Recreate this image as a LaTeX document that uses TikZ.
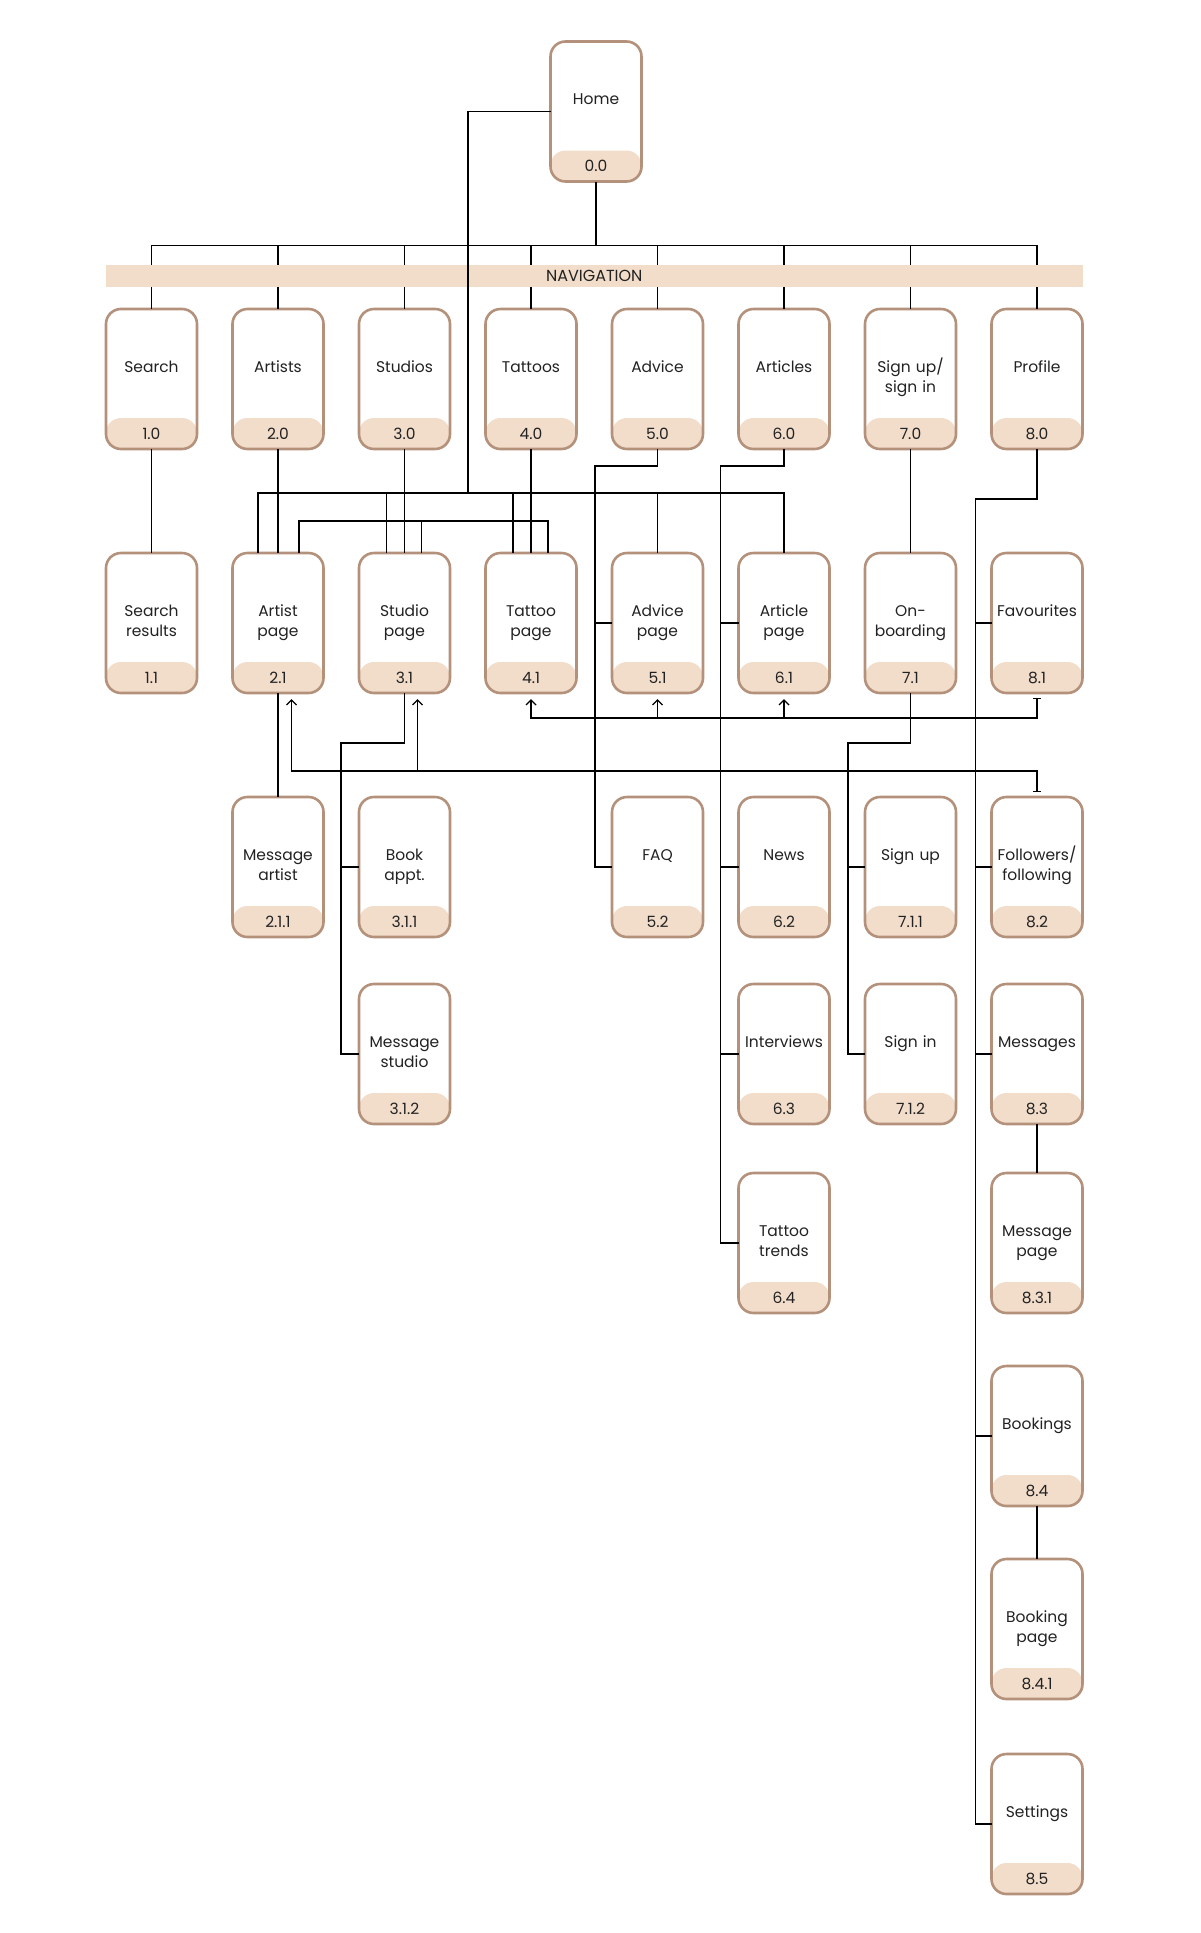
\documentclass[tikz,border=0pt]{standalone}
\usepackage{fontspec}
\setmainfont{Poppins}
\usepackage{tikz}
\usetikzlibrary{arrows.meta, positioning, calc}

\definecolor{boxline}{HTML}{B3917B}
\definecolor{bandfill}{HTML}{F2DDCB}
\definecolor{ink}{HTML}{222222}
\newcommand{\boxfont}{\fontsize{15.5}{20.5}\selectfont}

\begin{document}
\begin{tikzpicture}[
    x=1pt, y=1pt,
    node distance=104pt and 35.5pt,
    screen/.style={
      rectangle, rounded corners=15pt,
      draw=boxline, line width=2.6pt, fill=white,
      minimum width=91pt, minimum height=140pt,
      text width=91pt, align=center, inner sep=0pt, outer sep=0pt,
      text height=63pt, text depth=77pt,
      font=\boxfont, text=ink,
      path picture={\fill[bandfill] (path picture bounding box.south west)
        rectangle ([yshift=31pt]path picture bounding box.south east);},
      label={[anchor=base, yshift=10pt, inner sep=0pt, font=\boxfont, text=ink]south:#1}
    },
    navbar/.style={
      rectangle, fill=bandfill, minimum width=976.5pt, minimum height=22pt,
      inner sep=0pt, font=\fontsize{16}{16}\selectfont, text=ink
    },
    link/.style={draw=black, line width=1.6pt},
    uparr/.style={link, -{Straight Barb[length=5pt, width=10pt, line width=1.4pt]},
      shorten >=6pt},
    bararr/.style={link, {Bar[width=8pt, line width=1.4pt]}-{Straight Barb[length=5pt, width=10pt, line width=1.4pt]},
      shorten <=5pt, shorten >=6pt}
  ]

    \fill[white] (0,0) rectangle (1200,-1933);
    \useasboundingbox (0,0) rectangle (1200,-1933);

    % top level
    \node[screen=0.0] (home) at (596,-111.5) {Home};

    \node[screen=1.0] (search) at (151.5,-379) {Search};
    \node[screen=2.0, right=of search] (artists) {Artists};
    \node[screen=3.0, right=of artists] (studios) {Studios};
    \node[screen=4.0, right=of studios] (tattoos) {Tattoos};
    \node[screen=5.0, right=of tattoos] (advice) {Advice};
    \node[screen=6.0, right=of advice] (articles) {Articles};
    \node[screen=7.0, right=of articles] (signupin) {Sign up/\\sign in};
    \node[screen=8.0, right=of signupin] (profile) {Profile};

    % second level
    \node[screen=1.1, below=of search] (results) {Search\\results};
    \node[screen=2.1, below=of artists] (artpage) {Artist\\page};
    \node[screen=3.1, below=of studios] (studpage) {Studio\\page};
    \node[screen=4.1, below=of tattoos] (tatpage) {Tattoo\\page};
    \node[screen=5.1, below=of advice] (advpage) {Advice\\page};
    \node[screen=6.1, below=of articles] (artcpage) {Article\\page};
    \node[screen=7.1, below=of signupin] (onboard) {On-\\boarding};
    \node[screen=8.1, below=of profile] (fav) {Favourites};

    % third level
    \node[screen=2.1.1, below=of artpage] (msgart) {Message\\artist};
    \node[screen=3.1.1, below=of studpage] (book) {Book\\appt.};
    \node[screen=5.2, below=of advpage] (faq) {FAQ};
    \node[screen=6.2, below=of artcpage] (news) {News};
    \node[screen=7.1.1, below=of onboard] (signup) {Sign up};
    \node[screen=8.2, below=of fav] (follow) {Followers/\\following};

    \node[screen=3.1.2, below=47pt of book] (msgstu) {Message\\studio};
    \node[screen=6.3, below=47pt of news] (interv) {Interviews};
    \node[screen=7.1.2, below=47pt of signup] (signin) {Sign in};
    \node[screen=8.3, below=47pt of follow] (msgs) {Messages};

    \node[screen=6.4, below=49pt of interv] (trends) {Tattoo\\trends};
    \node[screen=8.3.1, below=49pt of msgs] (msgpage) {Message\\page};
    \node[screen=8.4, below=53pt of msgpage] (bookings) {Bookings};
    \node[screen=8.4.1, below=53pt of bookings] (bookpage) {Booking\\page};
    \node[screen=8.5, below=55pt of bookpage] (settings) {Settings};

    % navigation bus
    \coordinate (navbus) at ($(home.south)+(0,-64)$);
    \draw[link] (home.south) -- (navbus);
    \foreach \n in {search,artists,studios,tattoos,advice,articles,signupin,profile}
      \draw[link] (navbus) -| (\n.north);
    \node[navbar] (nav) at (594.25,-276) {NAVIGATION};

    % home straight to the pages
    \coordinate (homebus) at ($(studios.south)!.5!(tattoos.south)+(0,-44)$);
    \draw[link] (home.west) -| (homebus);
    \draw[link] ([xshift=-20pt]artpage.north) |- (homebus) -| (artcpage.north);
    \foreach \n/\dx in {studpage/-18, tatpage/-18, advpage/0}
      \draw[link] ([xshift=\dx pt]\n.north) |- (homebus);

    % artist, studio and tattoo pages
    \coordinate (pagebus) at ($(artpage.north)+(21,32)$);
    \draw[link] ([xshift=21pt]artpage.north) -- (pagebus) -| ([xshift=17pt]tatpage.north);
    \draw[link] ([xshift=17pt]studpage.north) |- (pagebus);

    \foreach \a/\b in {search/results, artists/artpage, studios/studpage,
        tattoos/tatpage, signupin/onboard, artpage/msgart, msgs/msgpage,
        bookings/bookpage}
      \draw[link] (\a.south) -- (\b.north);

    % trunks
    \draw[link] (advice.south) -- ++(0,-17) -| ([xshift=-17pt]faq.west) -- (faq.west);
    \draw[link] (advpage.west) -- ++(-17,0);

    \draw[link] (articles.south) -- ++(0,-17) -| ([xshift=-18pt]trends.west) -- (trends.west);
    \foreach \n in {artcpage, news, interv}
      \draw[link] (\n.west) -- ++(-18,0);

    \draw[link] (studpage.south) -- ++(0,-50) -| ([xshift=-18pt]msgstu.west) -- (msgstu.west);
    \draw[link] (book.west) -- ++(-18,0);

    \draw[link] (onboard.south) -- ++(0,-50) -| ([xshift=-17pt]signin.west) -- (signin.west);
    \draw[link] (signup.west) -- ++(-17,0);

    \draw[link] (profile.south) -- ++(0,-50) -| ([xshift=-16pt]settings.west) -- (settings.west);
    \foreach \n in {fav, follow, msgs, bookings}
      \draw[link] (\n.west) -- ++(-16,0);

    % back links
    \coordinate (favbus) at ($(fav.south)+(0,-25)$);
    \draw[bararr] (fav.south) -- (favbus) -| (tatpage.south);
    \foreach \n in {advpage, artcpage}
      \draw[uparr] (\n.south |- favbus) -- (\n.south);

    \coordinate (followbus) at ($(follow.north)+(0,26)$);
    \coordinate (studup) at ([xshift=13pt]studpage.south);
    \draw[bararr] (follow.north) -- (followbus) -| ([xshift=13.5pt]artpage.south);
    \draw[uparr] (studup |- followbus) -- (studup);
\end{tikzpicture}
\end{document}
